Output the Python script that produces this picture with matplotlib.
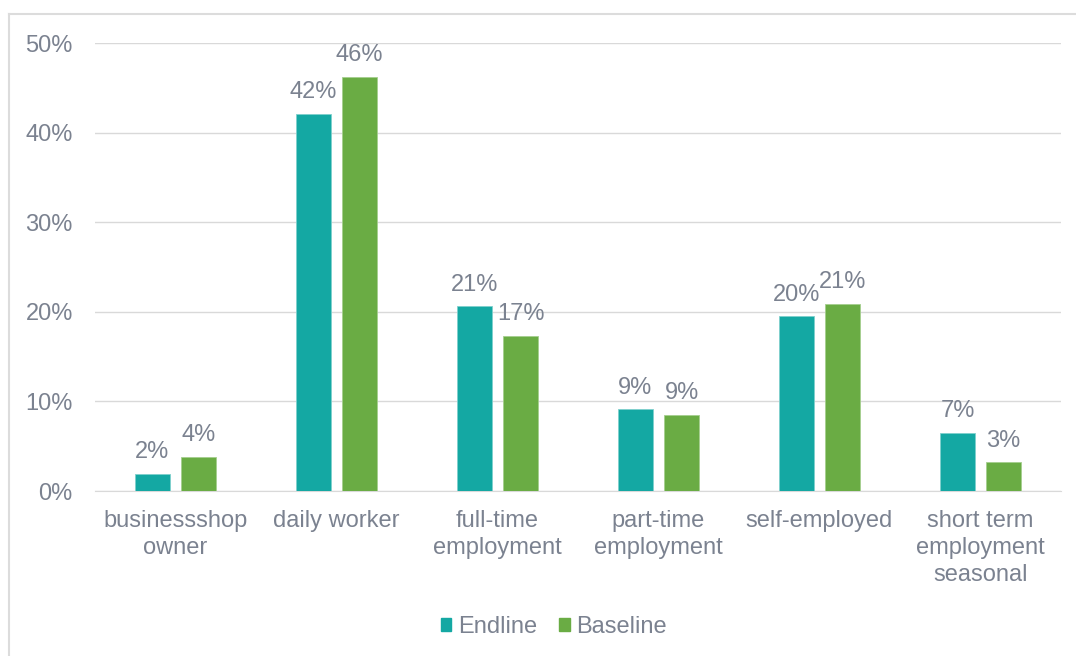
import numpy as np
import matplotlib
matplotlib.use("Agg")
import matplotlib.pyplot as plt
from matplotlib.lines import Line2D
from matplotlib.patches import Patch

plt.rcParams["font.family"] = ["Liberation Sans", "DejaVu Sans"]

# --- Data
categories = ["businessshop\nowner", "daily worker", "full-time\nemployment",
              "part-time\nemployment", "self-employed", "short term\nemployment\nseasonal"]
endline = [1.9, 42.1, 20.6, 9.1, 19.5, 6.5]
baseline = [3.8, 46.2, 17.3, 8.5, 20.9, 3.2]
endline_labels = ["2%", "42%", "21%", "9%", "20%", "7%"]
baseline_labels = ["4%", "46%", "17%", "9%", "21%", "3%"]
series_names = ["Endline", "Baseline"]

TEAL = "#14a8a3"
GREEN = "#6aac44"
TEXT = "#7b8290"
GRID = "#d9d9d9"
FS = 17

fig = plt.figure(figsize=(10.76, 6.56), dpi=100)
ax = fig.add_axes([95 / 1076, 1 - 491 / 656, (1061 - 95) / 1076, (491 - 43) / 656])

x = np.arange(len(categories))
w = 0.217
off = 0.143
b1 = ax.bar(x - off, endline, w, color=TEAL, edgecolor="#7fd0cd", linewidth=0.6, zorder=3)
b2 = ax.bar(x + off, baseline, w, color=GREEN, edgecolor="#a5cf8e", linewidth=0.6, zorder=3)

for bars, labels in ((b1, endline_labels), (b2, baseline_labels)):
    for rect, lab in zip(bars, labels):
        ax.text(rect.get_x() + rect.get_width() / 2, rect.get_height() + 1.2, lab,
                ha="center", va="bottom", fontsize=FS, color=TEXT, zorder=4)

ax.set_xlim(-0.5, len(categories) - 0.5)
ax.set_ylim(0, 50)
ax.set_yticks(range(0, 51, 10))
ax.set_yticklabels([f"{v}%" for v in range(0, 51, 10)])
ax.set_xticks(x)
ax.set_xticklabels(categories, linespacing=1.28)
ax.tick_params(axis="both", length=0, labelsize=FS, labelcolor=TEXT)
ax.tick_params(axis="y", pad=16)
ax.tick_params(axis="x", pad=14)
ax.grid(axis="y", color=GRID, linewidth=1.0, zorder=0)
for s in ("top", "right", "left"):
    ax.spines[s].set_visible(False)
ax.spines["bottom"].set_color(GRID)

handles = [Patch(color=TEAL), Patch(color=GREEN)]
fig.legend(handles, series_names, loc="center", bbox_to_anchor=(554 / 1076, 1 - 627 / 656),
           ncol=2, frameon=False, fontsize=FS, labelcolor=TEXT,
           handlelength=0.45, handleheight=0.45, handletextpad=0.3, columnspacing=0.9)

# chart frame (left and top edges)
fig.add_artist(Line2D([9 / 1076, 9 / 1076], [0, 1 - 14 / 656], color="#dcdcdc", lw=1.5))
fig.add_artist(Line2D([9 / 1076, 1], [1 - 14 / 656, 1 - 14 / 656], color="#dcdcdc", lw=1.5))

fig.savefig("out.png", dpi=100)
